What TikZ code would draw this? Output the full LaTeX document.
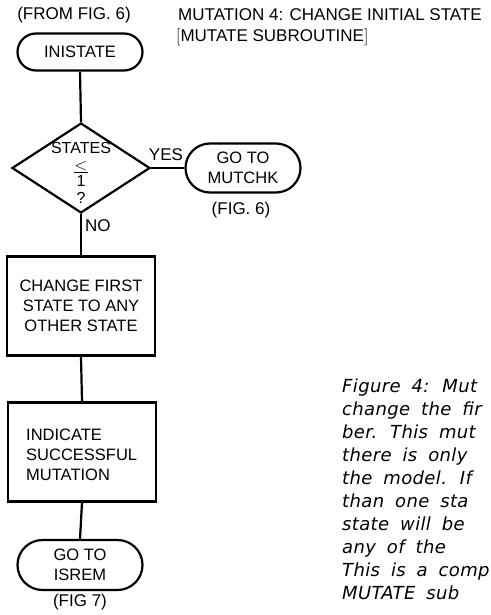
\documentclass[tikz,border=0pt]{standalone}
\usepackage{fontspec}
\setmainfont{Liberation Sans}
\newfontfamily\capfont[LetterSpace=2,WordSpace=1.8]{DejaVu Sans}
\usetikzlibrary{shapes.misc,shapes.geometric}
\begin{document}
\begin{tikzpicture}[x=1pt,y=-1pt,
  every node/.style={font=\fontsize{16.5}{20}\selectfont, inner sep=0pt},
  ln/.style={line width=2.2pt},
  term/.style={rounded rectangle, draw, line width=2.2pt, align=center},
  procbox/.style={draw, line width=2.2pt, minimum width=148pt, minimum height=99pt},
  lbl/.style={font=\fontsize{17}{18}\selectfont},
  capline/.style={anchor=base west, font=\capfont\itshape\fontsize{18}{23}\selectfont}]
\useasboundingbox (0,0) rectangle (490,615);
% headers
\node[lbl] (from) at (74,15) {(FROM FIG. 6)};
\node[lbl, anchor=west] (title1) at (178,15) {MUTATION 4: CHANGE INITIAL STATE};
\node[lbl, anchor=west] (title2) at (176,37) {$\big[$MUTATE SUBROUTINE$\big]$};
% flow nodes
\node[term, minimum width=125pt, minimum height=37pt] (ini) at (80,52) {INISTATE};
\node[diamond, draw, line width=2.2pt, minimum width=138pt, minimum height=90pt] (dec) at (81,168) {};
\node (dectxt) at (81,173) [align=center, font=\fontsize{16}{16.5}\selectfont] {STATES\\$\underline{<}$\\1\\?};
\node[term, minimum width=115pt, minimum height=49pt] (mutchk) at (243,168) {GO TO\\MUTCHK};
\node[lbl] (fig6) at (241,210) {(FIG. 6)};
\node[procbox] (box1) at (81,306) [align=center] {CHANGE FIRST\\STATE TO ANY\\OTHER STATE};
\node[procbox] (box2) at (82,452) {};
\node[anchor=west, align=left] (box2txt) at (26,455) {INDICATE\\SUCCESSFUL\\MUTATION};
\node[term, minimum width=125pt, minimum height=50pt] (isrem) at (80,565) {GO TO\\ISREM};
\node[lbl] (fig7) at (80,602) {(FIG 7)};
% connectors
\draw[ln] (ini.south) -- (dec.north);
\draw[ln] (dec.east) -- (mutchk.west);
\node[lbl] (yes) at (166,155) {YES};
\draw[ln] (dec.south) -- (box1.north);
\node[lbl, anchor=west] (no) at (85,226) {NO};
\draw[ln] (box1.south) -- (box2.north);
\draw[ln] (box2.south) -- (isrem.north);
% caption
\node[capline] (c1) at (342,392) {Figure 4: Mut};
\node[capline] (c2) at (342,415) {change the fir};
\node[capline] (c3) at (342,438) {ber. This mut};
\node[capline] (c4) at (342,461) {there is only};
\node[capline] (c5) at (342,484) {the model. If};
\node[capline] (c6) at (342,507) {than one sta};
\node[capline] (c7) at (342,530) {state will be};
\node[capline] (c8) at (342,553) {any of the};
\node[capline] (c9) at (342,576) {This is a comp};
\node[capline] (c10) at (342,599) {MUTATE sub};
\end{tikzpicture}
\end{document}
